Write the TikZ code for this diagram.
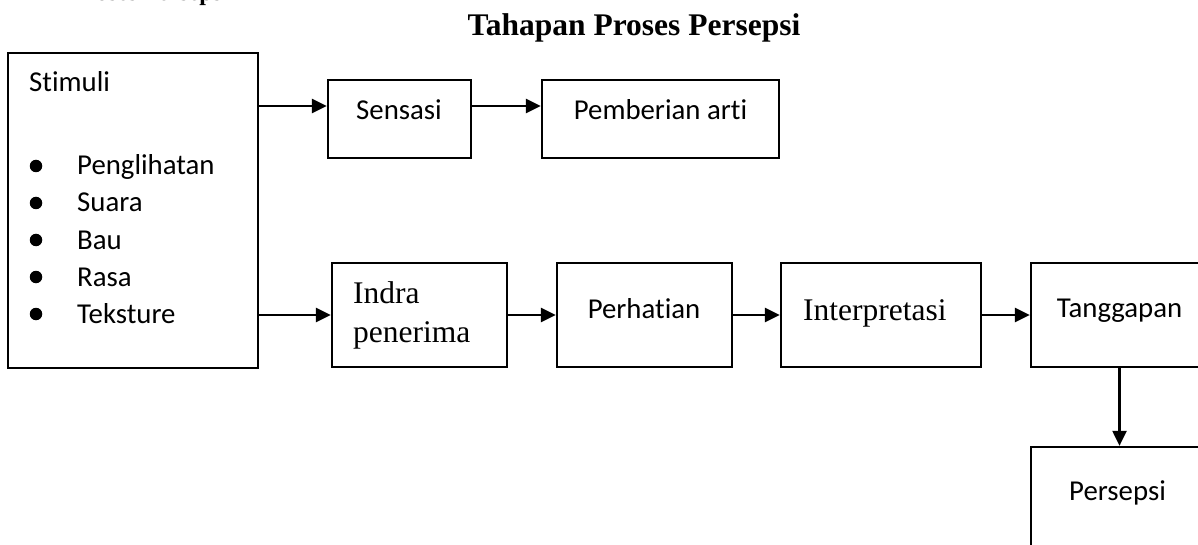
\documentclass[tikz,border=0pt]{standalone}
\usepackage{fontspec}
\usetikzlibrary{arrows.meta}
\newfontfamily\fcal[Ligatures={NoCommon}]{Carlito}
\newfontfamily\ftnr{Liberation Serif}
\begin{document}
\begin{tikzpicture}[x=1pt,y=-1pt,
  box/.style={draw,line width=2.3pt,rectangle,inner sep=0pt},
  cal/.style={font=\fcal\fontsize{28.8}{37}\selectfont,inner sep=0pt},
  tnr/.style={font=\ftnr\fontsize{31.5}{39}\selectfont,inner sep=0pt},
  bul/.style={circle,fill,inner sep=0pt,minimum size=12.5pt},
  arr/.style={line width=2.3pt,-{Triangle[length=15pt,width=14pt]}}]
\clip (0,0) rectangle (1198,545);
% clipped heading at top
\node[font=\ftnr\bfseries\fontsize{24}{28}\selectfont,inner sep=0pt,anchor=base west] (head) at (71,0.8) {Proses Persepsi};
% title
\node[font=\ftnr\bfseries\fontsize{31.5}{36}\selectfont,inner sep=0pt,anchor=base] (title) at (634,36) {Tahapan Proses Persepsi};
% boxes
\node[box,minimum width=250pt,minimum height=315pt] (stim) at (133,210.5) {};
\node[box,minimum width=143pt,minimum height=78pt] (sens) at (399.5,119) {};
\node[box,minimum width=237pt,minimum height=78pt] (pemb) at (660.5,119) {};
\node[box,minimum width=175pt,minimum height=104pt] (indra) at (419.5,315) {};
\node[box,minimum width=175pt,minimum height=104pt] (perh) at (644.5,315) {};
\node[box,minimum width=200pt,minimum height=104pt] (interp) at (881,315) {};
\node[box,minimum width=177pt,minimum height=104pt] (tang) at (1119.5,315) {};
\node[box,minimum width=177pt,minimum height=113pt] (pers) at (1119.5,503.5) {};
% texts
\node[cal,anchor=base west] (stimT) at (29,92) {Stimuli};
\node[bul] (b1) at (36,166) {};
\node[bul] (b2) at (36,203) {};
\node[bul] (b3) at (36,240) {};
\node[bul] (b4) at (36,277) {};
\node[bul] (b5) at (36,314) {};
\node[cal,anchor=base west] (l1) at (77,175) {Penglihatan};
\node[cal,anchor=base west] (l2) at (77,212) {Suara};
\node[cal,anchor=base west] (l3) at (77,249) {Bau};
\node[cal,anchor=base west] (l4) at (77,286) {Rasa};
\node[cal,anchor=base west] (l5) at (77,323) {Teksture};
\node[cal,anchor=base] (sensT) at (399,120) {Sensasi};
\node[cal,anchor=base] (pembT) at (660.5,120) {Pemberian arti};
\node[tnr,anchor=base west] (indraT) at (353,303) {\begin{tabular}[t]{@{}l@{}}Indra\\penerima\end{tabular}};
\node[cal,anchor=base] (perhT) at (644,318) {Perhatian};
\node[tnr,anchor=base west] (interpT) at (803,320) {Interpretasi};
\node[cal,anchor=base] (tangT) at (1119.5,317) {Tanggapan};
\node[cal,anchor=base] (persT) at (1117.5,500) {Persepsi};
% connectors
\coordinate (a1) at ([yshift=13pt]sens.west);
\coordinate (a2) at ([yshift=13pt]sens.east);
\coordinate (a3) at ([yshift=13pt]pemb.west);
\draw[arr] (stim.east |- a1) -- (a1);
\draw[arr] (a2) -- (a3);
\draw[arr] (stim.east |- indra.west) -- (indra.west);
\draw[arr] (indra.east) -- (perh.west);
\draw[arr] (perh.east) -- (interp.west);
\draw[arr] (interp.east) -- (tang.west);
\draw[arr] (tang.south) -- (pers.north);
\end{tikzpicture}
\end{document}
